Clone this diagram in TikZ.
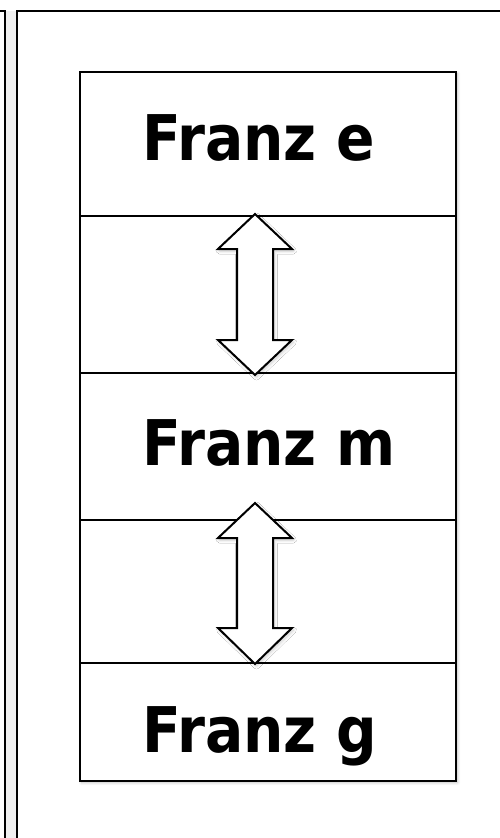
\documentclass[tikz,border=0pt]{standalone}
\usepackage{fontspec}
\setmainfont{DejaVu Sans}[FakeStretch=0.9]
\usetikzlibrary{shadows.blur}
\begin{document}
\begin{tikzpicture}[x=1pt,y=-1pt,
  frameline/.style={line width=2.3pt,black},
  rowline/.style={line width=1.8pt,black},
  dblarrow/.style={line width=2pt,black,fill=white,line join=miter,
    blur shadow={shadow xshift=1.5pt,shadow yshift=-2pt,shadow blur steps=8,shadow blur radius=3pt,shadow opacity=20}},
  label/.style={anchor=base west,inner sep=0pt,font=\fontsize{63}{70}\selectfont\bfseries}]
\useasboundingbox (0,0) rectangle (499,838);
\fill[gray!12] (5,11) rectangle (17,840);
% neighbouring frame and outer frame
\draw[frameline] (-5,11) -- (5,11) -- (5,845);
\draw[frameline] (17,845) -- (17,11) -- (505,11);
% inner column
\coordinate (tl) at (80,72);
\coordinate (br) at (456,781);
\fill[white,blur shadow={shadow xshift=1.5pt,shadow yshift=-1.5pt,shadow blur steps=8,shadow blur radius=3pt,shadow opacity=25}] (tl) rectangle (br);
\draw[rowline] (80,216) -- (456,216);
\draw[rowline] (80,373) -- (456,373);
\draw[rowline] (80,520) -- (456,520);
\draw[rowline] (80,663) -- (456,663);
% arrows
\draw[dblarrow] (255,214) -- (292,249) -- (273,249) -- (273,340) -- (292,340) -- (255,375)
  -- (218,340) -- (237,340) -- (237,249) -- (218,249) -- cycle;
\draw[dblarrow] (255,503) -- (292,538) -- (273,538) -- (273,628) -- (292,628) -- (255,664)
  -- (218,628) -- (237,628) -- (237,538) -- (218,538) -- cycle;
\draw[frameline] (tl) rectangle (br);
% labels
\node[label] (e) at (142,160) {Franz e};
\node[label] (m) at (142,465) {Franz m};
\node[label] (g) at (142,752) {Franz g};
\end{tikzpicture}
\end{document}
